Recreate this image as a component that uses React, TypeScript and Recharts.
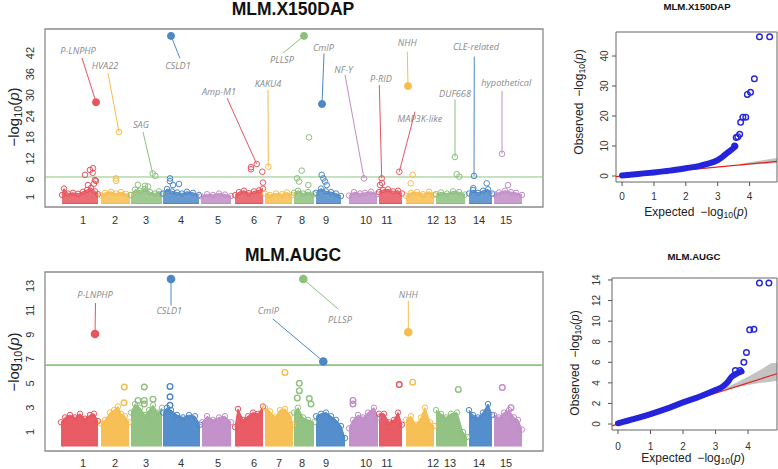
import React from "react";
import {
  ComposedChart,
  Area,
  Line,
  Scatter,
  XAxis,
  YAxis,
  ReferenceLine,
  ReferenceArea,
} from "recharts";

const FONT = '"Liberation Sans", Arial, sans-serif';
const GENE_FONT = '"Open Sans", "DejaVu Sans", sans-serif';

// one colour per chromosome, cycling every five
const CHR_COLORS = ["#E8535E", "#F7BD4D", "#8DC07D", "#4C88C9", "#C18CC7"];
const chrColor = (chr: number) => CHR_COLORS[(chr - 1) % 5];

// genome axis (cumulative position units)
const GENOME_DOMAIN: [number, number] = [0, 498];
const CHR_TICK_POS = [38, 70, 101, 136, 173, 209, 234, 257, 281, 321, 342, 388, 405, 434, 461];
const CHR_NAMES = ["1", "2", "3", "4", "5", "6", "7", "8", "9", "10", "11", "12", "13", "14", "15"];

// ─── MLM.X150DAP ────────────────────────────────────────────────

// top of the dense SNP cloud per chromosome: [pos, -log10 p]
const X150_CLOUD = [
  [[17, 1.6], [19, 3.4], [23, 2.0], [28, 2.2], [33, 1.9], [38, 2.5], [42, 3.0], [46, 3.6], [50, 2.6], [53, 1.8]],
  [[56, 1.4], [60, 2.2], [66, 2.5], [71, 2.0], [76, 2.4], [81, 1.9], [85, 1.5]],
  [[86, 1.6], [90, 3.1], [95, 2.8], [100, 3.3], [105, 2.4], [110, 2.0], [114, 2.6], [117, 1.8]],
  [[118, 2.0], [122, 3.3], [127, 2.6], [132, 2.3], [137, 2.0], [142, 2.5], [148, 2.2], [154, 1.6]],
  [[156, 1.2], [162, 1.8], [168, 1.6], [174, 2.0], [180, 1.7], [186, 1.3]],
  [[190, 1.5], [194, 2.4], [199, 2.8], [204, 2.1], [209, 2.6], [214, 2.9], [218, 3.4]],
  [[220, 2.0], [225, 1.6], [231, 2.0], [237, 1.8], [242, 2.3], [247, 1.5]],
  [[249, 2.2], [253, 2.8], [258, 2.0], [263, 2.4], [269, 1.8]],
  [[271, 2.2], [276, 3.4], [281, 2.6], [286, 2.4], [291, 2.0], [296, 1.3]],
  [[304, 1.4], [309, 2.4], [315, 2.0], [320, 2.2], [326, 2.5], [332, 1.8]],
  [[334, 2.4], [338, 3.0], [343, 3.2], [348, 2.6], [353, 2.8], [357, 2.0]],
  [[361, 1.4], [366, 2.2], [372, 2.4], [378, 1.8], [384, 2.5], [389, 1.6]],
  [[391, 1.8], [396, 2.3], [402, 2.0], [408, 2.6], [414, 2.4], [420, 1.7]],
  [[424, 2.0], [428, 3.0], [433, 2.2], [438, 2.8], [443, 3.2], [447, 2.0]],
  [[449, 1.8], [454, 2.3], [460, 2.8], [466, 2.4], [471, 2.2], [477, 1.6]],
];

// single SNPs above the cloud: [chr, pos, -log10 p]
const X150_HITS = [
  [1, 40, 7.3], [1, 45, 8.7], [1, 48, 9.2], [1, 47.7, 7.9], [1, 50, 5.8], [1, 51, 5.6], [1, 43, 4.4], [1, 49, 4.8],
  [2, 71, 6.3], [2, 71, 5.6],
  [3, 110.3, 7.0], [3, 100, 4.2], [3, 103, 4.0], [3, 93, 4.5],
  [4, 125, 6.3], [4, 125, 5.5], [4, 128, 4.4], [4, 134, 4.7],
  [6, 206, 9.5], [6, 206, 8.9], [6, 217.3, 8.2], [6, 218, 5.1],
  [8, 252, 6.3], [8, 256.7, 8.5], [8, 254, 5.4], [8, 263.3, 4.4], [8, 264, 18.0],
  [9, 276.7, 7.3], [9, 278.3, 6.3], [9, 280, 5.4], [9, 281.7, 4.4],
  [11, 335, 4.4], [11, 337, 5.0],
  [12, 367.7, 7.3], [12, 365.7, 4.9],
  [13, 411.7, 7.5], [13, 414.3, 6.8],
  [14, 441.7, 4.9], [14, 428.3, 3.5],
  [15, 463, 4.4],
];

// named candidate genes: [gene, chr, pos, -log10 p, filled marker]
const X150_GENES: [string, number, number, number, boolean][] = [
  ["P-LNPHP", 1, 51, 28.0, true],
  ["HVA22", 2, 74, 19.5, false],
  ["CSLD1", 4, 126, 46.9, true],
  ["SAG", 3, 107.7, 7.7, false],
  ["Amp-M1", 6, 211.7, 10.4, false],
  ["KAKU4", 7, 223.3, 9.6, false],
  ["PLLSP", 8, 259, 46.9, true],
  ["CmIP", 9, 277, 27.5, true],
  ["NF-Y", 10, 319, 6.3, false],
  ["P-RID", 11, 336.7, 6.3, false],
  ["NHH", 12, 363, 32.6, true],
  ["MAP3K-like", 11, 354.3, 8.2, false],
  ["DUF668", 13, 410, 12.4, false],
  ["CLE-related", 14, 429, 7.0, false],
  ["hypothetical", 15, 457, 13.3, false],
];

// label placement: [label pos, label y, leader start pos, leader start y]
const X150_LABEL_AT: Record<string, number[]> = {
  "P-LNPHP": [33, 42.6, 37, 40.6],
  HVA22: [60, 38.3, 63, 36.3],
  CSLD1: [133, 38.3, 135, 40.5],
  SAG: [96, 21.5, 98, 19.5],
  "Amp-M1": [174, 30.9, 182, 29.2],
  KAKU4: [223, 33.2, 223, 31.5],
  PLLSP: [237, 40.0, 238, 42.0],
  CmIP: [278.5, 43.5, 279, 41.9],
  "NF-Y": [298.5, 37.2, 300, 35.8],
  "P-RID": [336, 34.6, 334.3, 32.9],
  NHH: [362.3, 44.8, 362.3, 42.4],
  "MAP3K-like": [375, 23.2, 370, 25.3],
  DUF668: [410, 30.3, 410, 28.8],
  "CLE-related": [431, 43.7, 429.3, 41.0],
  hypothetical: [461.3, 33.6, 457, 31.2],
};

const X150_Y_TICKS = [1, 6, 12, 18, 24, 30, 36, 42];
const X150_THRESHOLD = 6.7;

// ─── MLM.AUGC ───────────────────────────────────────────────────

const AUGC_CLOUD = [
  [[16, 1.8], [20, 2.2], [25, 2.4], [30, 2.2], [35, 2.5], [40, 2.1], [45, 2.4], [49, 2.5], [53, 1.9]],
  [[56, 1.7], [60, 2.0], [65, 2.6], [69, 2.8], [73, 3.1], [76, 2.5], [80, 2.3], [84, 1.8]],
  [[86, 2.6], [90, 3.3], [95, 3.0], [100, 2.4], [104, 2.8], [108, 3.2], [113, 2.6], [117, 3.0]],
  [[118, 2.6], [122, 3.0], [126, 2.8], [132, 2.4], [138, 2.2], [144, 2.4], [150, 2.3], [155, 1.6]],
  [[157, 1.8], [162, 2.3], [168, 2.0], [174, 2.2], [180, 2.3], [186, 1.8]],
  [[190, 1.4], [193, 2.9], [198, 2.0], [203, 2.3], [208, 2.6], [213, 2.5], [218, 3.1]],
  [[220, 3.0], [225, 2.7], [230, 2.2], [235, 2.8], [240, 2.9], [245, 2.4], [248, 1.6]],
  [[249, 2.6], [253, 3.0], [258, 2.2], [263, 2.0], [269, 1.8]],
  [[271, 2.3], [276, 2.5], [281, 2.6], [286, 2.3], [291, 2.0], [296, 1.5], [300, 0.5]],
  [[304, 1.3], [308, 2.0], [313, 2.4], [318, 2.2], [323, 2.6], [329, 3.0], [333, 2.2]],
  [[334, 2.5], [339, 2.5], [344, 1.8], [349, 2.0], [353, 2.6], [357, 1.6]],
  [[361, 2.0], [366, 2.3], [371, 1.6], [376, 2.2], [380, 3.0], [385, 1.8], [389, 1.5]],
  [[391, 2.8], [396, 2.5], [401, 2.2], [406, 2.5], [412, 2.6], [418, 1.0], [422, 0.6]],
  [[424, 2.8], [428, 2.4], [433, 2.2], [438, 2.6], [443, 3.3], [447, 2.4]],
  [[449, 2.4], [454, 2.2], [459, 2.6], [464, 2.8], [469, 2.2], [473, 2.0], [477, 1.2]],
];

const AUGC_HITS = [
  [2, 79.3, 4.7], [2, 79, 3.4],
  [3, 99.3, 4.7], [3, 99.3, 3.6], [3, 99.3, 3.3], [3, 93, 3.6], [3, 108, 3.7],
  [4, 125, 4.75], [4, 125, 3.9], [4, 125, 3.2],
  [7, 240, 5.9],
  [8, 254.3, 5.0], [8, 254.3, 4.4], [8, 252.3, 3.8], [8, 264.3, 3.75], [8, 266, 3.3],
  [10, 308, 3.6], [10, 308, 3.3],
  [11, 354.3, 4.9],
  [12, 367.7, 5.1],
  [13, 413.3, 4.5],
  [15, 457.3, 4.65], [15, 466, 3.0],
];

const AUGC_GENES: [string, number, number, number, boolean][] = [
  ["P-LNPHP", 1, 50, 9.05, true],
  ["CSLD1", 4, 126, 13.57, true],
  ["CmIP", 9, 278.3, 6.8, true],
  ["PLLSP", 8, 258.3, 13.57, true],
  ["NHH", 12, 363.3, 9.2, true],
];

const AUGC_LABEL_AT: Record<string, number[]> = {
  "P-LNPHP": [50, 12.3, 50.5, 11.6],
  CSLD1: [124.3, 10.95, 126, 11.4],
  CmIP: [223.3, 10.95, 227.7, 10.3],
  PLLSP: [295, 10.2, 293.3, 11.1],
  NHH: [363.3, 12.3, 363.3, 11.8],
};

const AUGC_Y_TICKS = [1, 3, 5, 7, 9, 11, 13];
const AUGC_THRESHOLD = 6.5;

// ─── QQ plots: [expected, observed] ─────────────────────────────

const X150_QQ_BODY = [
  [0, 0.2], [0.5, 0.7], [1, 1.2], [1.5, 1.8], [2, 2.6], [2.4, 3.3], [2.7, 4.1],
  [3, 5.3], [3.15, 6.4], [3.3, 7.7], [3.45, 8.9], [3.55, 9.9],
];
const X150_QQ_TAIL = [
  [3.53, 10], [3.58, 12.8], [3.63, 13.1], [3.69, 13.9], [3.72, 17.9], [3.79, 19.6],
  [3.88, 19.6], [3.93, 27.2], [4.03, 27.9], [4.15, 32.4], [4.31, 46.4], [4.63, 46.4],
];
// confidence band: [expected, low, high]
const X150_QQ_BAND = [[3.7, 3.5, 4.0], [4.2, 3.9, 4.9], [4.86, 4.3, 6.0]];

const AUGC_QQ_BODY = [
  [0, 0.07], [0.5, 0.5], [1, 0.97], [1.5, 1.5], [2, 2.1], [2.5, 2.65], [3, 3.3],
  [3.2, 3.6], [3.35, 4.0], [3.5, 4.6], [3.65, 4.9], [3.8, 5.1],
];
const AUGC_QQ_TAIL = [
  [3.61, 5.2], [3.75, 5.2], [3.87, 6.0], [3.95, 6.95], [4.05, 9.15], [4.18, 9.2], [4.35, 13.7], [4.64, 13.7],
];
const AUGC_QQ_BAND = [[3.3, 3.3, 3.5], [3.7, 3.6, 4.1], [4.0, 3.8, 4.6], [4.4, 4.0, 5.3], [4.7, 4.1, 5.9], [4.89, 4.2, 5.95]];

// ─── pieces ─────────────────────────────────────────────────────

function RotatedTick({ x, y, payload, size, fill }: any) {
  return (
    <text
      x={x}
      y={y}
      transform={`rotate(-90 ${x} ${y})`}
      textAnchor="middle"
      fontSize={size}
      fill={fill}
      fontFamily={FONT}
    >
      {payload.value}
    </text>
  );
}

function NegLog() {
  return (
    <>
      −log
      <span style={{ fontSize: "0.72em", position: "relative", top: "0.25em" }}>10</span>(
      <i>p</i>)
    </>
  );
}

function Txt({ x, y, rotate, style, children }: any) {
  return (
    <div
      style={{
        position: "absolute",
        left: x,
        top: y,
        transform: `translate(-50%, -50%)${rotate ? " rotate(-90deg)" : ""}`,
        whiteSpace: "nowrap",
        lineHeight: 1,
        fontFamily: FONT,
        color: "#222",
        ...style,
      }}
    >
      {children}
    </div>
  );
}

function Manhattan(props: {
  cloud: number[][][];
  cloudBase: number;
  hits: number[][];
  genes: [string, number, number, number, boolean][];
  labelAt: Record<string, number[]>;
  yDomain: [number, number];
  yTicks: number[];
  threshold: number;
  height: number;
  marginTop: number;
  xAxisHeight: number;
  xTickMargin: number;
  thresholdWidth: number;
  hitStroke: number;
  hitR: number;
  geneR: number;
  cloudOpacity: number;
}) {
  const rows: any[] = [];
  props.cloud.forEach((pts, i) =>
    pts.forEach(([pos, v]) => rows.push({ pos, ["c" + i]: [props.cloudBase, v] }))
  );
  rows.sort((a, b) => a.pos - b.pos);

  const points = [
    ...props.hits.map(([chr, pos, v]) => ({ chr, pos, v, filled: false })),
    ...props.genes.map(([, chr, pos, v, filled]) => ({ chr, pos, v, filled })),
  ];
  const labels = props.genes.map(([gene]) => ({
    gene,
    pos: props.labelAt[gene][0],
    v: props.labelAt[gene][1],
  }));

  return (
    <ComposedChart
      width={560}
      height={props.height}
      data={rows}
      margin={{ top: props.marginTop, right: 17, bottom: 0, left: 0 }}
    >
      <XAxis
        dataKey="pos"
        type="number"
        domain={GENOME_DOMAIN}
        allowDataOverflow
        ticks={CHR_TICK_POS}
        interval={0}
        tickFormatter={(v) => CHR_NAMES[CHR_TICK_POS.indexOf(v)]}
        axisLine={false}
        tickLine={false}
        tickSize={0}
        tickMargin={props.xTickMargin}
        height={props.xAxisHeight}
        tick={{ fontSize: 11, fill: "#333", fontFamily: FONT }}
      />
      <YAxis
        type="number"
        domain={props.yDomain}
        allowDataOverflow
        ticks={props.yTicks}
        interval={0}
        axisLine={false}
        tickLine={false}
        tickSize={0}
        tickMargin={11}
        width={45}
        tick={(p: any) => <RotatedTick {...p} size={11} fill="#333" />}
      />
      {props.cloud.map((_, i) => {
        const c = chrColor(i + 1);
        return (
          <Area
            key={i}
            dataKey={"c" + i}
            type="linear"
            stroke={c}
            strokeWidth={1}
            fill={c}
            fillOpacity={props.cloudOpacity}
            connectNulls={false}
            isAnimationActive={false}
            activeDot={false}
            dot={(d: any) =>
              d.cy == null ? (
                <g key={`d${i}-${d.index}`} />
              ) : (
                <circle
                  key={`d${i}-${d.index}`}
                  cx={d.cx}
                  cy={d.cy}
                  r={2.7}
                  fill="none"
                  stroke={c}
                  strokeWidth={1}
                />
              )
            }
          />
        );
      })}
      <ReferenceLine y={props.threshold} stroke="#8DC57F" strokeWidth={props.thresholdWidth} />
      {props.genes.map(([gene, chr, pos, v]) => {
        const at = props.labelAt[gene];
        return (
          <ReferenceLine
            key={gene}
            segment={[
              { x: at[2], y: at[3] },
              { x: pos, y: v },
            ]}
            stroke={chrColor(chr)}
            strokeWidth={1}
            ifOverflow="visible"
          />
        );
      })}
      <Scatter
        data={points}
        dataKey="v"
        isAnimationActive={false}
        shape={(p: any) => {
          const c = chrColor(p.payload.chr);
          return (
            <circle
              cx={p.cx}
              cy={p.cy}
              r={p.payload.filled ? props.geneR : props.hitR}
              fill={p.payload.filled ? c : "none"}
              stroke={c}
              strokeWidth={props.hitStroke}
            />
          );
        }}
      />
      <Scatter
        data={labels}
        dataKey="v"
        isAnimationActive={false}
        shape={(p: any) => (
          <text
            x={p.cx}
            y={p.cy}
            dy="0.35em"
            textAnchor="middle"
            fontSize={9.2}
            fontStyle="italic"
            fontFamily={GENE_FONT}
            fill="#8a8a8a"
          >
            {p.payload.gene}
          </text>
        )}
      />
      <ReferenceArea
        x1={GENOME_DOMAIN[0]}
        x2={GENOME_DOMAIN[1]}
        y1={props.yDomain[0]}
        y2={props.yDomain[1]}
        fill="none"
        stroke="#8a8a8a"
        strokeWidth={1.3}
        ifOverflow="visible"
      />
    </ComposedChart>
  );
}

function QQPlot(props: {
  body: number[][];
  tail: number[][];
  band: number[][];
  xDomain: [number, number];
  yDomain: [number, number];
  yTicks: number[];
  height: number;
  marginTop: number;
  yAxisWidth: number;
  yTickMargin: number;
  xAxisHeight: number;
  xTickMargin: number;
}) {
  const rows = props.band.map(([e, lo, hi]) => ({ e, band: [lo, hi] }));
  const body = props.body.map(([e, o]) => ({ e, o }));
  const tail = props.tail.map(([e, o]) => ({ e, o }));
  const d0 = Math.max(props.xDomain[0], props.yDomain[0]);
  const d1 = Math.min(props.xDomain[1], props.yDomain[1]);
  return (
    <ComposedChart
      width={218}
      height={props.height}
      data={rows}
      margin={{ top: props.marginTop, right: 1, bottom: 0, left: 0 }}
    >
      <XAxis
        dataKey="e"
        type="number"
        domain={props.xDomain}
        allowDataOverflow
        ticks={[0, 1, 2, 3, 4]}
        interval={0}
        axisLine={false}
        tickSize={4}
        tickMargin={props.xTickMargin}
        stroke="#555"
        height={props.xAxisHeight}
        tick={{ fontSize: 10, fill: "#333", fontFamily: FONT }}
      />
      <YAxis
        type="number"
        domain={props.yDomain}
        allowDataOverflow
        ticks={props.yTicks}
        interval={0}
        axisLine={false}
        tickSize={4}
        tickMargin={props.yTickMargin}
        stroke="#555"
        width={props.yAxisWidth}
        tick={(p: any) => <RotatedTick {...p} size={10} fill="#333" />}
      />
      <Area
        dataKey="band"
        type="linear"
        stroke="none"
        fill="#bdbdbd"
        fillOpacity={0.9}
        dot={false}
        activeDot={false}
        isAnimationActive={false}
      />
      <ReferenceLine
        segment={[
          { x: d0, y: d0 },
          { x: d1, y: d1 },
        ]}
        stroke="#E3221C"
        strokeWidth={1.2}
        ifOverflow="visible"
      />
      <Line
        data={body}
        dataKey="o"
        type="monotone"
        stroke="#2424DD"
        strokeWidth={6}
        strokeLinecap="round"
        dot={false}
        activeDot={false}
        isAnimationActive={false}
      />
      <Scatter
        data={tail}
        dataKey="o"
        isAnimationActive={false}
        shape={(p: any) => (
          <circle cx={p.cx} cy={p.cy} r={2.8} fill="none" stroke="#2424DD" strokeWidth={1.4} />
        )}
      />
      <ReferenceArea
        x1={props.xDomain[0]}
        x2={props.xDomain[1]}
        y1={props.yDomain[0]}
        y2={props.yDomain[1]}
        fill="none"
        stroke="#666"
        strokeWidth={1}
        ifOverflow="visible"
      />
    </ComposedChart>
  );
}

export default function App() {
  return (
    <div
      style={{
        position: "relative",
        width: 778,
        height: 469,
        overflow: "hidden",
        background: "#fff",
      }}
    >
      <style>{"body{margin:0}"}</style>

      <div style={{ position: "absolute", left: 0, top: 0 }}>
        <Manhattan
          cloud={X150_CLOUD}
          cloudBase={-0.85}
          hits={X150_HITS}
          genes={X150_GENES}
          labelAt={X150_LABEL_AT}
          yDomain={[-1.85, 48.86]}
          yTicks={X150_Y_TICKS}
          threshold={X150_THRESHOLD}
          height={230}
          marginTop={29}
          xAxisHeight={23}
          xTickMargin={9}
          thresholdWidth={1}
          hitStroke={1}
          hitR={2.8}
          geneR={3.5}
          cloudOpacity={0.85}
        />
      </div>
      <div style={{ position: "absolute", left: 0, top: 235 }}>
        <Manhattan
          cloud={AUGC_CLOUD}
          cloudBase={-0.15}
          hits={AUGC_HITS}
          genes={AUGC_GENES}
          labelAt={AUGC_LABEL_AT}
          yDomain={[-0.56, 14.15]}
          yTicks={AUGC_Y_TICKS}
          threshold={AUGC_THRESHOLD}
          height={234}
          marginTop={37}
          xAxisHeight={18}
          xTickMargin={8.5}
          thresholdWidth={1.6}
          hitStroke={1.4}
          hitR={2.8}
          geneR={3.6}
          cloudOpacity={0.95}
        />
      </div>
      <div style={{ position: "absolute", left: 560, top: 0 }}>
        <QQPlot
          body={X150_QQ_BODY}
          tail={X150_QQ_TAIL}
          band={X150_QQ_BAND}
          xDomain={[-0.19, 4.86]}
          yDomain={[-2, 48]}
          yTicks={[0, 10, 20, 30, 40]}
          height={230}
          marginTop={32}
          yAxisWidth={56}
          yTickMargin={4.4}
          xAxisHeight={48}
          xTickMargin={6.5}
        />
      </div>
      <div style={{ position: "absolute", left: 560, top: 235 }}>
        <QQPlot
          body={AUGC_QQ_BODY}
          tail={AUGC_QQ_TAIL}
          band={AUGC_QQ_BAND}
          xDomain={[-0.185, 4.89]}
          yDomain={[-0.58, 14.19]}
          yTicks={[0, 2, 4, 6, 8, 10, 12, 14]}
          height={234}
          marginTop={43}
          yAxisWidth={52}
          yTickMargin={7.7}
          xAxisHeight={39}
          xTickMargin={8.5}
        />
      </div>

      <Txt x={293} y={10} style={{ fontSize: 17.5, fontWeight: "bold", color: "#111" }}>
        MLM.X150DAP
      </Txt>
      <Txt x={293} y={256} style={{ fontSize: 17.5, fontWeight: "bold", color: "#111" }}>
        MLM.AUGC
      </Txt>
      <Txt x={697} y={7} style={{ fontSize: 9.6, fontWeight: "bold", color: "#111" }}>
        MLM.X150DAP
      </Txt>
      <Txt x={694} y={257} style={{ fontSize: 9.6, fontWeight: "bold", color: "#111" }}>
        MLM.AUGC
      </Txt>

      <Txt x={13} y={117} rotate style={{ fontSize: 15 }}>
        <NegLog />
      </Txt>
      <Txt x={13} y={362} rotate style={{ fontSize: 15 }}>
        <NegLog />
      </Txt>

      <Txt x={579} y={102} rotate style={{ fontSize: 12 }}>
        Observed{"\u2002"}
        <NegLog />
      </Txt>
      <Txt x={575} y={363} rotate style={{ fontSize: 12 }}>
        Observed{"\u2002"}
        <NegLog />
      </Txt>
      <Txt x={696} y={212} style={{ fontSize: 12 }}>
        Expected{"\u2002"}
        <NegLog />
      </Txt>
      <Txt x={693} y={458} style={{ fontSize: 12 }}>
        Expected{"\u2002"}
        <NegLog />
      </Txt>
    </div>
  );
}
